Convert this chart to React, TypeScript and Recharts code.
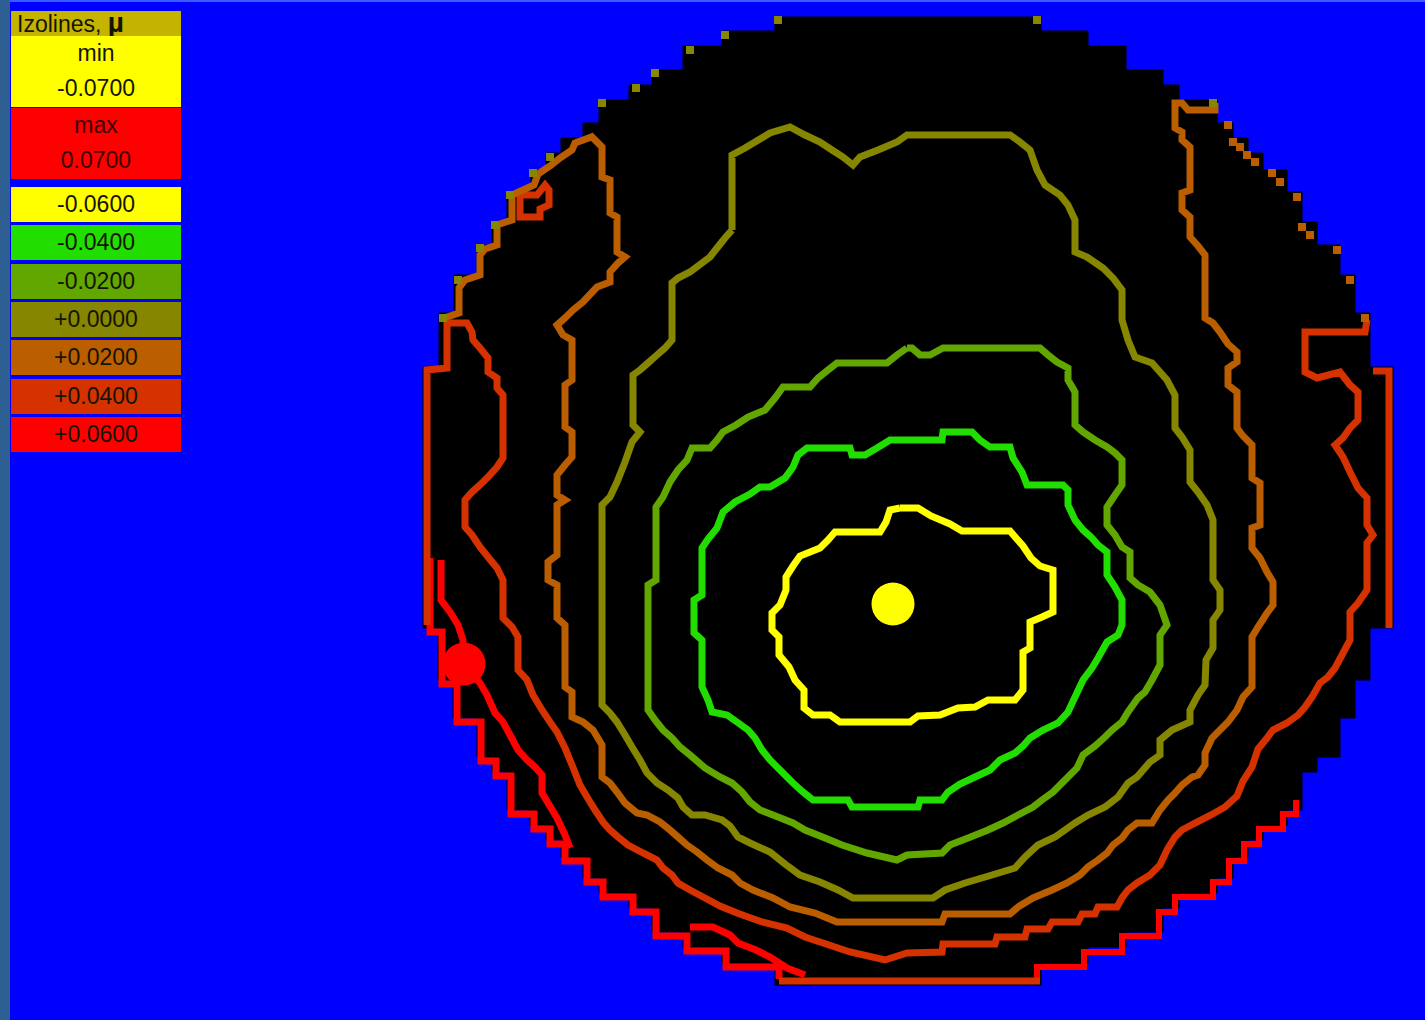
import { ScatterChart, Scatter, XAxis, YAxis } from 'recharts';

type Pt = [number, number];

// legend
const legendTitle = 'Izolines, ';
const minLabel = 'min';
const minValue = '-0.0700';
const maxLabel = 'max';
const maxValue = '0.0700';
const levelLabels = ['-0.0600', '-0.0400', '-0.0200', '+0.0000', '+0.0200', '+0.0400', '+0.0600'];
const levelColors = ['#FFFF00', '#22DD00', '#62A600', '#868600', '#BA5E00', '#D63200', '#FF0000'];

// stepped rim of the measured area: band edges (y) and left / right x of each band
const rimBandY = [17, 31, 46, 70, 85, 100, 123, 138, 153, 170, 192, 222, 245, 275, 313, 367, 628, 680, 718, 757, 772, 810, 825, 840, 857, 878, 893, 908, 932, 947, 963, 985];
const rimLeftX = [775, 722, 683, 652, 629, 599, 583, 561, 546, 531, 507, 492, 477, 454, 439, 423, 438, 453, 477, 492, 507, 530, 546, 561, 583, 599, 629, 652, 683, 722, 775];
const rimRightX = [1041, 1088, 1126, 1163, 1179, 1217, 1233, 1248, 1263, 1287, 1302, 1317, 1340, 1355, 1370, 1393, 1370, 1355, 1340, 1317, 1302, 1287, 1263, 1248, 1233, 1217, 1179, 1163, 1126, 1088, 1041];

const isoM06: Pt[] = [
  [900, 508], [918, 508], [931, 516], [950, 524], [962, 531], [1010, 531], [1016, 538], [1023, 546], [1031, 558], [1040, 566],
  [1053, 570], [1053, 612], [1042, 617], [1030, 622], [1030, 648], [1023, 652], [1023, 690], [1015, 700], [988, 700], [975, 707],
  [958, 708], [940, 715], [918, 716], [910, 722], [840, 722], [830, 715], [813, 715], [804, 708], [804, 690], [795, 680],
  [789, 667], [779, 655], [779, 637], [772, 630], [772, 613], [780, 605], [786, 590], [786, 577], [793, 566], [800, 556],
  [820, 548], [828, 540], [835, 532], [880, 532], [886, 522], [890, 510], [900, 508],
];
const isoM04: Pt[] = [
  [907, 440], [890, 440], [877, 448], [865, 455], [852, 455], [850, 448], [807, 448], [798, 455], [793, 467], [785, 478],
  [770, 487], [760, 487], [750, 494], [735, 502], [723, 512], [717, 528], [708, 539], [702, 548], [702, 595], [694, 600],
  [694, 633], [702, 640], [702, 687], [708, 700], [712, 712], [727, 715], [737, 722], [748, 730], [755, 738], [762, 750],
  [770, 760], [778, 768], [787, 777], [793, 783], [803, 792], [813, 800], [848, 800], [852, 807], [918, 807], [920, 800],
  [942, 800], [948, 792], [960, 784], [975, 777], [990, 770], [1000, 760], [1015, 753], [1023, 746], [1030, 738], [1043, 730],
  [1058, 723], [1068, 712], [1075, 697], [1083, 680], [1092, 668], [1098, 658], [1107, 642], [1118, 635], [1122, 625], [1122, 600],
  [1115, 587], [1107, 575], [1107, 552], [1098, 545], [1091, 537], [1083, 530], [1075, 520], [1068, 505], [1068, 490], [1063, 485],
  [1027, 485], [1022, 472], [1013, 458], [1010, 447], [990, 447], [980, 440], [972, 432], [943, 432], [942, 440], [907, 440],
];
const isoM02: Pt[] = [
  [907, 348], [897, 355], [887, 363], [837, 363], [828, 370], [818, 378], [810, 387], [783, 387], [775, 398], [765, 410],
  [748, 417], [736, 425], [723, 432], [717, 440], [710, 448], [692, 448], [687, 460], [678, 470], [670, 482], [663, 497],
  [656, 507], [656, 580], [648, 585], [648, 710], [655, 720], [663, 730], [672, 738], [680, 747], [690, 755], [705, 768],
  [720, 777], [732, 783], [742, 792], [750, 802], [760, 810], [773, 815], [793, 823], [805, 830], [825, 838], [842, 845],
  [867, 853], [897, 860], [907, 855], [942, 853], [950, 845], [968, 838], [988, 830], [1003, 823], [1018, 815], [1033, 807],
  [1042, 800], [1053, 792], [1062, 783], [1070, 775], [1077, 768], [1083, 755], [1095, 746], [1105, 737], [1112, 730], [1122, 722],
  [1128, 712], [1138, 698], [1145, 692], [1152, 680], [1160, 665], [1160, 635], [1167, 625], [1160, 605], [1150, 592], [1138, 585],
  [1130, 578], [1130, 552], [1122, 547], [1115, 535], [1107, 525], [1107, 507], [1115, 495], [1122, 485], [1122, 460], [1115, 453],
  [1107, 447], [1095, 440], [1083, 432], [1075, 425], [1075, 392], [1068, 380], [1068, 368], [1057, 362], [1048, 355], [1040, 348],
  [943, 348], [930, 355], [920, 355], [912, 348], [907, 348],
];
const iso00: Pt[] = [
  [732, 230], [732, 155], [745, 148], [770, 133], [790, 127], [805, 135], [820, 142], [832, 150], [843, 157], [853, 165],
  [860, 157], [878, 150], [897, 142], [907, 135], [1010, 135], [1020, 142], [1030, 150], [1037, 170], [1045, 185], [1060, 195],
  [1068, 205], [1075, 220], [1075, 252], [1087, 257], [1103, 268], [1113, 278], [1122, 290], [1122, 320], [1128, 340], [1135, 357],
  [1152, 363], [1167, 380], [1175, 395], [1175, 428], [1182, 437], [1190, 450], [1190, 482], [1198, 492], [1207, 505], [1213, 520],
  [1213, 580], [1220, 590], [1220, 610], [1213, 620], [1213, 648], [1206, 660], [1205, 685], [1198, 695], [1190, 710], [1190, 722],
  [1172, 730], [1160, 740], [1160, 755], [1150, 762], [1137, 777], [1128, 783], [1118, 797], [1105, 807], [1088, 815], [1075, 823],
  [1055, 837], [1038, 845], [1025, 857], [1015, 868], [992, 875], [965, 883], [945, 890], [933, 898], [853, 898], [838, 890],
  [820, 882], [800, 875], [785, 864], [770, 852], [750, 843], [738, 837], [730, 826], [722, 820], [705, 815], [692, 815],
  [683, 807], [678, 798], [668, 790], [657, 783], [647, 773], [640, 760], [632, 747], [625, 735], [617, 722], [610, 713],
  [602, 705], [602, 505], [610, 497], [617, 482], [625, 462], [632, 442], [640, 432], [633, 425], [633, 375], [640, 370],
  [648, 363], [657, 355], [665, 348], [672, 340], [672, 283], [678, 278], [690, 272], [702, 263], [710, 257], [717, 248],
  [725, 238], [732, 230],
];
const isoP02: Pt[] = [
  [590, 135], [602, 147], [602, 177], [610, 180], [610, 213], [617, 217], [617, 252], [625, 257], [618, 263], [610, 272],
  [610, 282], [597, 287], [583, 302], [573, 310], [565, 318], [557, 325], [563, 335], [572, 340], [572, 380], [565, 385],
  [565, 427], [572, 432], [572, 457], [565, 465], [557, 475], [557, 495], [565, 500], [557, 505], [557, 555], [548, 562],
  [548, 580], [557, 585], [557, 618], [565, 625], [565, 687], [572, 692], [572, 717], [583, 722], [593, 730], [602, 745],
  [602, 777], [610, 783], [617, 792], [625, 803], [637, 813], [647, 815], [660, 822], [670, 830], [678, 837], [687, 845],
  [697, 852], [707, 860], [718, 868], [732, 875], [740, 883], [753, 890], [773, 898], [790, 907], [815, 913], [837, 922],
  [942, 922], [945, 914], [1010, 914], [1018, 907], [1033, 898], [1052, 890], [1067, 883], [1080, 875], [1088, 867], [1098, 860],
  [1107, 853], [1113, 845], [1122, 838], [1128, 830], [1137, 823], [1152, 823], [1160, 810], [1168, 800], [1175, 793], [1182, 785],
  [1192, 777], [1198, 775], [1205, 765], [1205, 753], [1212, 738], [1220, 730], [1228, 722], [1237, 710], [1243, 697], [1252, 687],
  [1252, 637], [1258, 627], [1267, 613], [1273, 605], [1273, 582], [1267, 572], [1260, 558], [1252, 548], [1252, 528], [1260, 525],
  [1260, 483], [1252, 478], [1252, 445], [1243, 436], [1237, 428], [1237, 392], [1228, 385], [1228, 368], [1237, 362], [1237, 352],
  [1228, 344], [1220, 332], [1213, 323], [1205, 318], [1205, 255], [1198, 246], [1190, 237], [1190, 217], [1182, 210], [1182, 193],
  [1190, 190], [1190, 147], [1182, 140], [1182, 132], [1175, 128], [1175, 103], [1182, 103], [1188, 110], [1215, 110], [1215, 103],
];
const isoP02Rim: Pt[] = [
  [594, 136], [575, 143], [572, 150], [560, 158], [550, 166], [538, 174], [534, 185], [512, 195], [512, 220], [497, 225],
  [497, 245], [485, 249], [480, 255], [480, 275], [465, 280], [459, 288], [459, 313], [444, 318],
];
const isoP04: Pt[] = [
  [427, 625], [427, 370], [447, 368], [447, 323], [467, 323], [472, 332], [473, 340], [480, 348], [488, 358], [488, 372],
  [497, 378], [497, 388], [503, 395], [503, 458], [497, 467], [488, 477], [480, 485], [472, 492], [465, 500], [465, 527],
  [472, 535], [480, 547], [488, 557], [497, 568], [503, 580], [503, 618], [512, 627], [518, 637], [518, 670], [527, 680],
  [533, 695], [542, 710], [550, 722], [557, 732], [565, 748], [572, 765], [580, 785], [587, 797], [595, 810], [603, 822],
  [610, 830], [618, 837], [628, 845], [643, 853], [657, 860], [663, 868], [672, 875], [678, 883], [690, 890], [705, 898],
  [720, 906], [737, 913], [762, 922], [787, 928], [805, 937], [823, 943], [850, 952], [885, 960], [907, 953], [942, 952],
  [943, 944], [995, 944], [997, 937], [1025, 937], [1027, 929], [1048, 929], [1052, 922], [1078, 922], [1082, 914], [1095, 914],
  [1098, 907], [1117, 907], [1122, 898], [1128, 890], [1137, 883], [1150, 875], [1160, 865], [1167, 850], [1175, 837], [1182, 830],
  [1195, 823], [1211, 815], [1225, 807], [1237, 796], [1243, 781], [1252, 767], [1258, 749], [1267, 738], [1273, 730], [1287, 723],
  [1298, 715], [1305, 707], [1312, 697], [1320, 683], [1328, 677], [1335, 668], [1342, 655], [1350, 640], [1350, 612], [1358, 603],
  [1367, 590], [1367, 543], [1373, 535], [1367, 525], [1367, 498], [1358, 488], [1350, 472], [1343, 457], [1335, 445], [1343, 438],
  [1350, 428], [1358, 420], [1358, 392], [1350, 385], [1340, 372], [1317, 378], [1305, 372], [1305, 332], [1365, 332], [1367, 320],
];
const isoP04Ring: Pt[] = [[520, 195], [537, 195], [545, 185], [549, 190], [549, 205], [540, 209], [540, 217], [520, 217], [520, 195]];
const isoP04Right: Pt[] = [[1373, 371], [1389, 371], [1389, 628]];
const isoP04Bottom: Pt[] = [[779, 981], [1040, 981]];
const isoP06Inner: Pt[] = [
  [441, 560], [441, 600], [450, 612], [458, 625], [463, 640], [463, 664], [480, 683], [487, 695], [495, 713], [503, 722],
  [510, 735], [518, 750], [527, 760], [535, 767], [542, 775], [542, 793], [548, 803], [557, 818], [565, 835], [570, 848],
];
const isoP06Low: Pt[] = [[690, 927], [713, 927], [730, 935], [738, 943], [756, 950], [770, 957], [787, 968], [805, 975]];
const isoP06RimLeft: Pt[] = [
  [430, 558], [430, 632], [442, 632], [442, 684], [457, 684], [457, 722], [481, 722], [481, 761], [496, 761], [496, 776],
  [511, 776], [511, 814], [534, 814], [534, 829], [550, 829], [550, 844], [565, 844], [565, 861], [587, 861], [587, 882],
  [603, 882], [603, 897], [633, 897], [633, 912], [656, 912], [656, 936], [687, 936], [687, 951], [726, 951], [726, 967],
  [779, 967], [779, 979],
];
const isoP06RimRight: Pt[] = [
  [1037, 979], [1037, 967], [1084, 967], [1084, 952], [1122, 952], [1122, 936], [1159, 936], [1159, 912], [1175, 912], [1175, 897],
  [1213, 897], [1213, 882], [1229, 882], [1229, 861], [1244, 861], [1244, 844], [1259, 844], [1259, 829], [1283, 829], [1283, 814],
  [1296, 814], [1296, 800],
];

// isoline end cells on the rim
const rimCells00: Pt[] = [
  [778, 20], [1037, 20], [725, 35], [690, 50], [655, 73], [636, 88], [602, 103], [550, 157], [533, 173], [510, 195],
  [495, 225], [480, 248], [458, 280], [443, 318], [1213, 103],
];
const rimCellsP02: Pt[] = [
  [1228, 125], [1233, 142], [1240, 147], [1247, 155], [1255, 162], [1272, 173], [1280, 182], [1297, 197], [1302, 227],
  [1310, 235], [1337, 250], [1350, 280], [1365, 318],
];

// extremes
const minPoint: Pt[] = [[893, 604]];
const maxPoint: Pt[] = [[464, 664]];

const toXY = (pts: Pt[]) => pts.map(([x, y]) => ({ x, y }));

const rimOutline = (): Pt[] => {
  const out: Pt[] = [];
  for (let i = 0; i < rimLeftX.length; i++) {
    out.push([rimLeftX[i], rimBandY[i]], [rimLeftX[i], rimBandY[i + 1]]);
  }
  for (let i = rimRightX.length - 1; i >= 0; i--) {
    out.push([rimRightX[i], rimBandY[i + 1]], [rimRightX[i], rimBandY[i]]);
  }
  out.push(out[0]);
  return out;
};

const noDot = () => <g />;

const isoLines: { key: string; pts: Pt[]; color: string; width?: number }[] = [
  { key: 'p06rl', pts: isoP06RimLeft, color: levelColors[6], width: 7 },
  { key: 'p06rr', pts: isoP06RimRight, color: levelColors[6], width: 6 },
  { key: 'p04b', pts: isoP04Bottom, color: levelColors[5] },
  { key: 'p06i', pts: isoP06Inner, color: levelColors[6] },
  { key: 'p06l', pts: isoP06Low, color: levelColors[6] },
  { key: 'p04', pts: isoP04, color: levelColors[5] },
  { key: 'p04ring', pts: isoP04Ring, color: levelColors[5] },
  { key: 'p04r', pts: isoP04Right, color: levelColors[5] },
  { key: 'p02', pts: isoP02, color: levelColors[4] },
  { key: 'p02rim', pts: isoP02Rim, color: levelColors[4] },
  { key: 'z00', pts: iso00, color: levelColors[3] },
  { key: 'm02', pts: isoM02, color: levelColors[2] },
  { key: 'm04', pts: isoM04, color: levelColors[1] },
  { key: 'm06', pts: isoM06, color: levelColors[0] },
];

const legendText: React.CSSProperties = {
  fontFamily: '"Liberation Sans", Arial, sans-serif',
  fontSize: 23,
  color: '#141400',
  textAlign: 'center',
  lineHeight: '35px',
};

const Legend = () => (
  <div style={{ position: 'absolute', left: 11, top: 0, width: 170 }}>
    <div style={{ position: 'absolute', top: 11, height: 25, width: 170, background: '#C4B400', ...legendText, textAlign: 'left', lineHeight: '24px' }}>
      <span style={{ marginLeft: 6 }}>{legendTitle}</span>
      <span style={{ fontWeight: 'bold', fontSize: 28 }}>µ</span>
    </div>
    <div style={{ position: 'absolute', top: 36, height: 71, width: 170, background: '#FFFF00' }}>
      <div style={legendText}>{minLabel}</div>
      <div style={legendText}>{minValue}</div>
    </div>
    <div style={{ position: 'absolute', top: 108, height: 71, width: 170, background: '#FF0000' }}>
      <div style={{ ...legendText, color: '#3A0000' }}>{maxLabel}</div>
      <div style={{ ...legendText, color: '#3A0000' }}>{maxValue}</div>
    </div>
    {levelLabels.map((lbl, i) => (
      <div
        key={lbl}
        style={{ position: 'absolute', top: 187 + i * 38.3, height: 35, width: 170, background: levelColors[i], ...legendText }}
      >
        {lbl}
      </div>
    ))}
  </div>
);

export default function App() {
  return (
    <div style={{ position: 'absolute', left: 0, top: 0, width: 1425, height: 1020, background: '#0000FF', overflow: 'hidden' }}>
      <div style={{ position: 'absolute', left: 0, top: 0, width: 1425, height: 2, background: '#3A5CFF' }} />
      <div style={{ position: 'absolute', left: 0, top: 0, width: 10, height: 1020, background: '#2E5F93' }} />
      <div style={{ position: 'absolute', left: 0, top: 0 }}>
        <ScatterChart width={1425} height={1020} margin={{ top: 0, right: 0, bottom: 0, left: 0 }}>
          <XAxis type="number" dataKey="x" domain={[0, 1425]} hide allowDataOverflow />
          <YAxis type="number" dataKey="y" domain={[0, 1020]} reversed hide allowDataOverflow />
          <Scatter
            data={toXY(rimOutline())}
            fill="#000000"
            line={{ stroke: '#000000', strokeWidth: 1, fill: '#000000' }}
            shape={noDot}
            isAnimationActive={false}
          />
          {isoLines.map((iso) => (
            <Scatter
              key={iso.key}
              data={toXY(iso.pts)}
              fill={iso.color}
              line={{ stroke: iso.color, strokeWidth: iso.width ?? 7, fill: 'none' }}
              shape={noDot}
              isAnimationActive={false}
            />
          ))}
          <Scatter
            data={toXY(rimCells00)}
            fill={levelColors[3]}
            shape={(p: any) => <rect x={p.cx - 4} y={p.cy - 4} width={8} height={8} fill={levelColors[3]} />}
            isAnimationActive={false}
          />
          <Scatter
            data={toXY(rimCellsP02)}
            fill={levelColors[4]}
            shape={(p: any) => <rect x={p.cx - 4} y={p.cy - 4} width={8} height={8} fill={levelColors[4]} />}
            isAnimationActive={false}
          />
          <Scatter
            data={toXY(minPoint)}
            fill="#FFFF00"
            shape={(p: any) => <circle cx={p.cx} cy={p.cy} r={21.5} fill="#FFFF00" />}
            isAnimationActive={false}
          />
          <Scatter
            data={toXY(maxPoint)}
            fill="#FF0000"
            shape={(p: any) => <circle cx={p.cx} cy={p.cy} r={21.5} fill="#FF0000" />}
            isAnimationActive={false}
          />
        </ScatterChart>
      </div>
      <Legend />
    </div>
  );
}
